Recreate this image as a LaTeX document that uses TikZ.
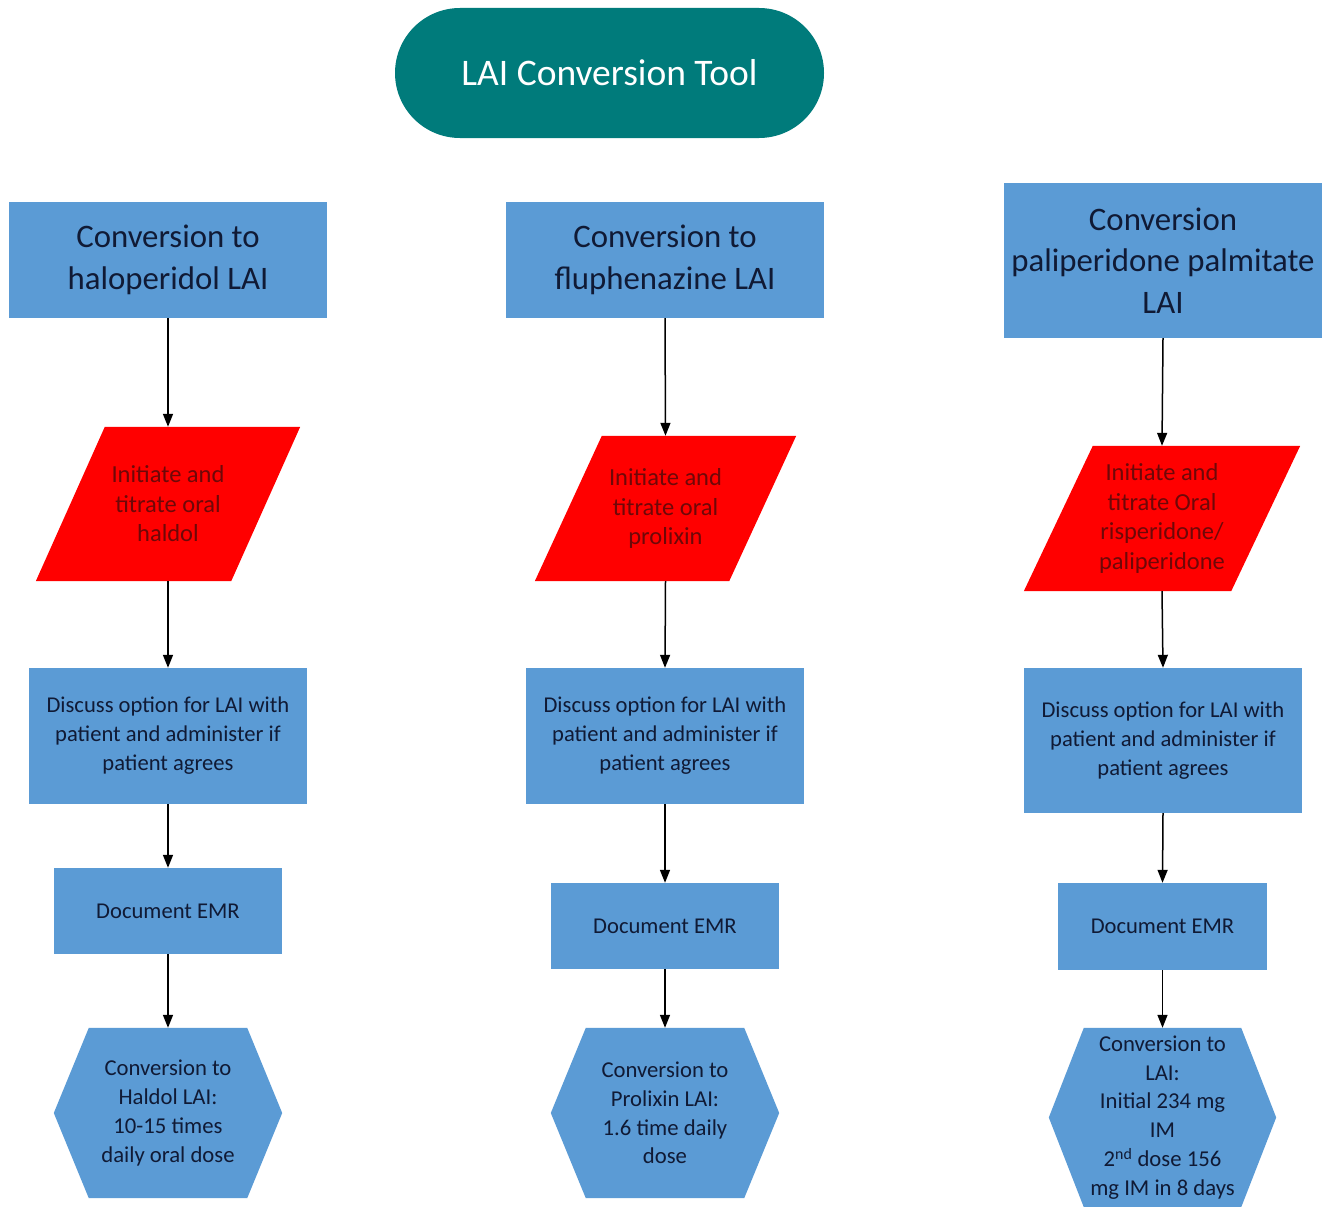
\documentclass[tikz,border=0pt]{standalone}
\usepackage{fontspec}
\setmainfont{Carlito}
\usetikzlibrary{arrows.meta}
\pgfdeclarelayer{background}
\pgfdeclarelayer{paper}
\pgfsetlayers{paper,background,main}
\definecolor{teal1}{RGB}{0,123,123}
\definecolor{officeblue}{RGB}{91,155,213}
\definecolor{navytext}{RGB}{16,26,53}
\definecolor{redtext}{RGB}{110,8,8}
\definecolor{redfill}{RGB}{255,0,0}
\tikzset{
  titlebox/.style={fill=teal1, rounded corners=65pt, minimum width=429pt, minimum height=130pt, inner sep=0pt, text=white, font=\fontsize{37.5}{44}\selectfont},
  headbox/.style={fill=officeblue, minimum width=318pt, inner sep=0pt, align=center, text=navytext, font=\fontsize{32.8}{41.5}\selectfont},
  bluebox/.style={fill=officeblue, inner sep=0pt, align=center, text=navytext, font=\fontsize{22.6}{29}\selectfont},
  redbox/.style={inner sep=0pt, align=center, text=redtext, font=\fontsize{24.5}{29.5}\selectfont},
  hexbox/.style={inner sep=0pt, align=center, text=navytext, font=\fontsize{22.7}{28.8}\selectfont},
  conn/.style={draw=black, line width=1.5pt, -{Triangle[width=10pt,length=13pt]}}
}
\newcommand{\myparallel}[2]{%
  \begin{pgfonlayer}{background}
  \fill[redfill] ([xshift=#2]#1.north west) -- (#1.north east) -- ([xshift=-#2]#1.south east) -- (#1.south west) -- cycle;
  \end{pgfonlayer}}
\newcommand{\myhexagon}[2]{%
  \begin{pgfonlayer}{background}
  \fill[officeblue] ([xshift=#2]#1.north west) -- ([xshift=-#2]#1.north east) -- (#1.east) -- ([xshift=-#2]#1.south east) -- ([xshift=#2]#1.south west) -- (#1.west) -- cycle;
  \end{pgfonlayer}}
\begin{document}
\begin{tikzpicture}[x=1pt,y=-1pt]
\useasboundingbox (0,0) rectangle (1333,1207);
\begin{pgfonlayer}{paper}
\fill[white] (0,0) rectangle (1333,1207);
\end{pgfonlayer}

\node[titlebox] (title) at (609.5,73) {LAI Conversion Tool};

% column 1
\node[headbox, minimum height=116pt] (h1) at (168,260) {Conversion to\\haloperidol LAI};
\node[redbox, minimum width=264pt, minimum height=154pt] (p1) at (168,504) {Initiate and\\titrate oral\\haldol};
\myparallel{p1}{69pt}
\node[bluebox, minimum width=278pt, minimum height=136pt] (d1) at (168,736) {Discuss option for LAI with\\patient and administer if\\patient agrees};
\node[bluebox, minimum width=228pt, minimum height=86pt] (e1) at (168,911) {Document EMR};
\node[hexbox, minimum width=228pt, minimum height=170pt] (x1) at (168,1113) {Conversion to\\Haldol LAI:\\10-15 times\\daily oral dose};
\myhexagon{x1}{35pt}

% column 2
\node[headbox, minimum height=116pt] (h2) at (665,260) {Conversion to\\fluphenazine LAI};
\node[redbox, minimum width=261pt, minimum height=145pt] (p2) at (665.5,508.5) {Initiate and\\titrate oral\\prolixin};
\myparallel{p2}{67pt}
\node[bluebox, minimum width=278pt, minimum height=136pt] (d2) at (665,736) {Discuss option for LAI with\\patient and administer if\\patient agrees};
\node[bluebox, minimum width=228pt, minimum height=86pt] (e2) at (665,926) {Document EMR};
\node[hexbox, minimum width=228pt, minimum height=170pt] (x2) at (665,1113) {Conversion to\\Prolixin LAI:\\1.6 time daily\\dose};
\myhexagon{x2}{35pt}

% column 3
\node[headbox, minimum height=155pt] (h3) at (1163,260.5) {Conversion\\paliperidone palmitate\\LAI};
\node[redbox, minimum width=276pt, minimum height=145pt] (p3) at (1162,518.5) {Initiate and\\titrate Oral\\risperidone/\\paliperidone};
\myparallel{p3}{69pt}
\node[bluebox, minimum width=278pt, minimum height=145pt] (d3) at (1163,740.5) {Discuss option for LAI with\\patient and administer if\\patient agrees};
\node[bluebox, minimum width=209pt, minimum height=87pt] (e3) at (1162.5,926.5) {Document EMR};
\node[hexbox, minimum width=227pt, minimum height=179pt] (x3) at (1162.5,1117.5) {Conversion to\\LAI:\\Initial 234 mg\\IM\\2\textsuperscript{nd} dose 156\\mg IM in 8 days};
\myhexagon{x3}{35pt}

% connectors
\foreach \c in {1,2,3}{
  \draw[conn] (h\c.south) -- (p\c.north);
  \draw[conn] (p\c.south) -- (d\c.north);
  \draw[conn] (d\c.south) -- (e\c.north);
  \draw[conn] (e\c.south) -- (x\c.north);
}
\end{tikzpicture}
\end{document}
